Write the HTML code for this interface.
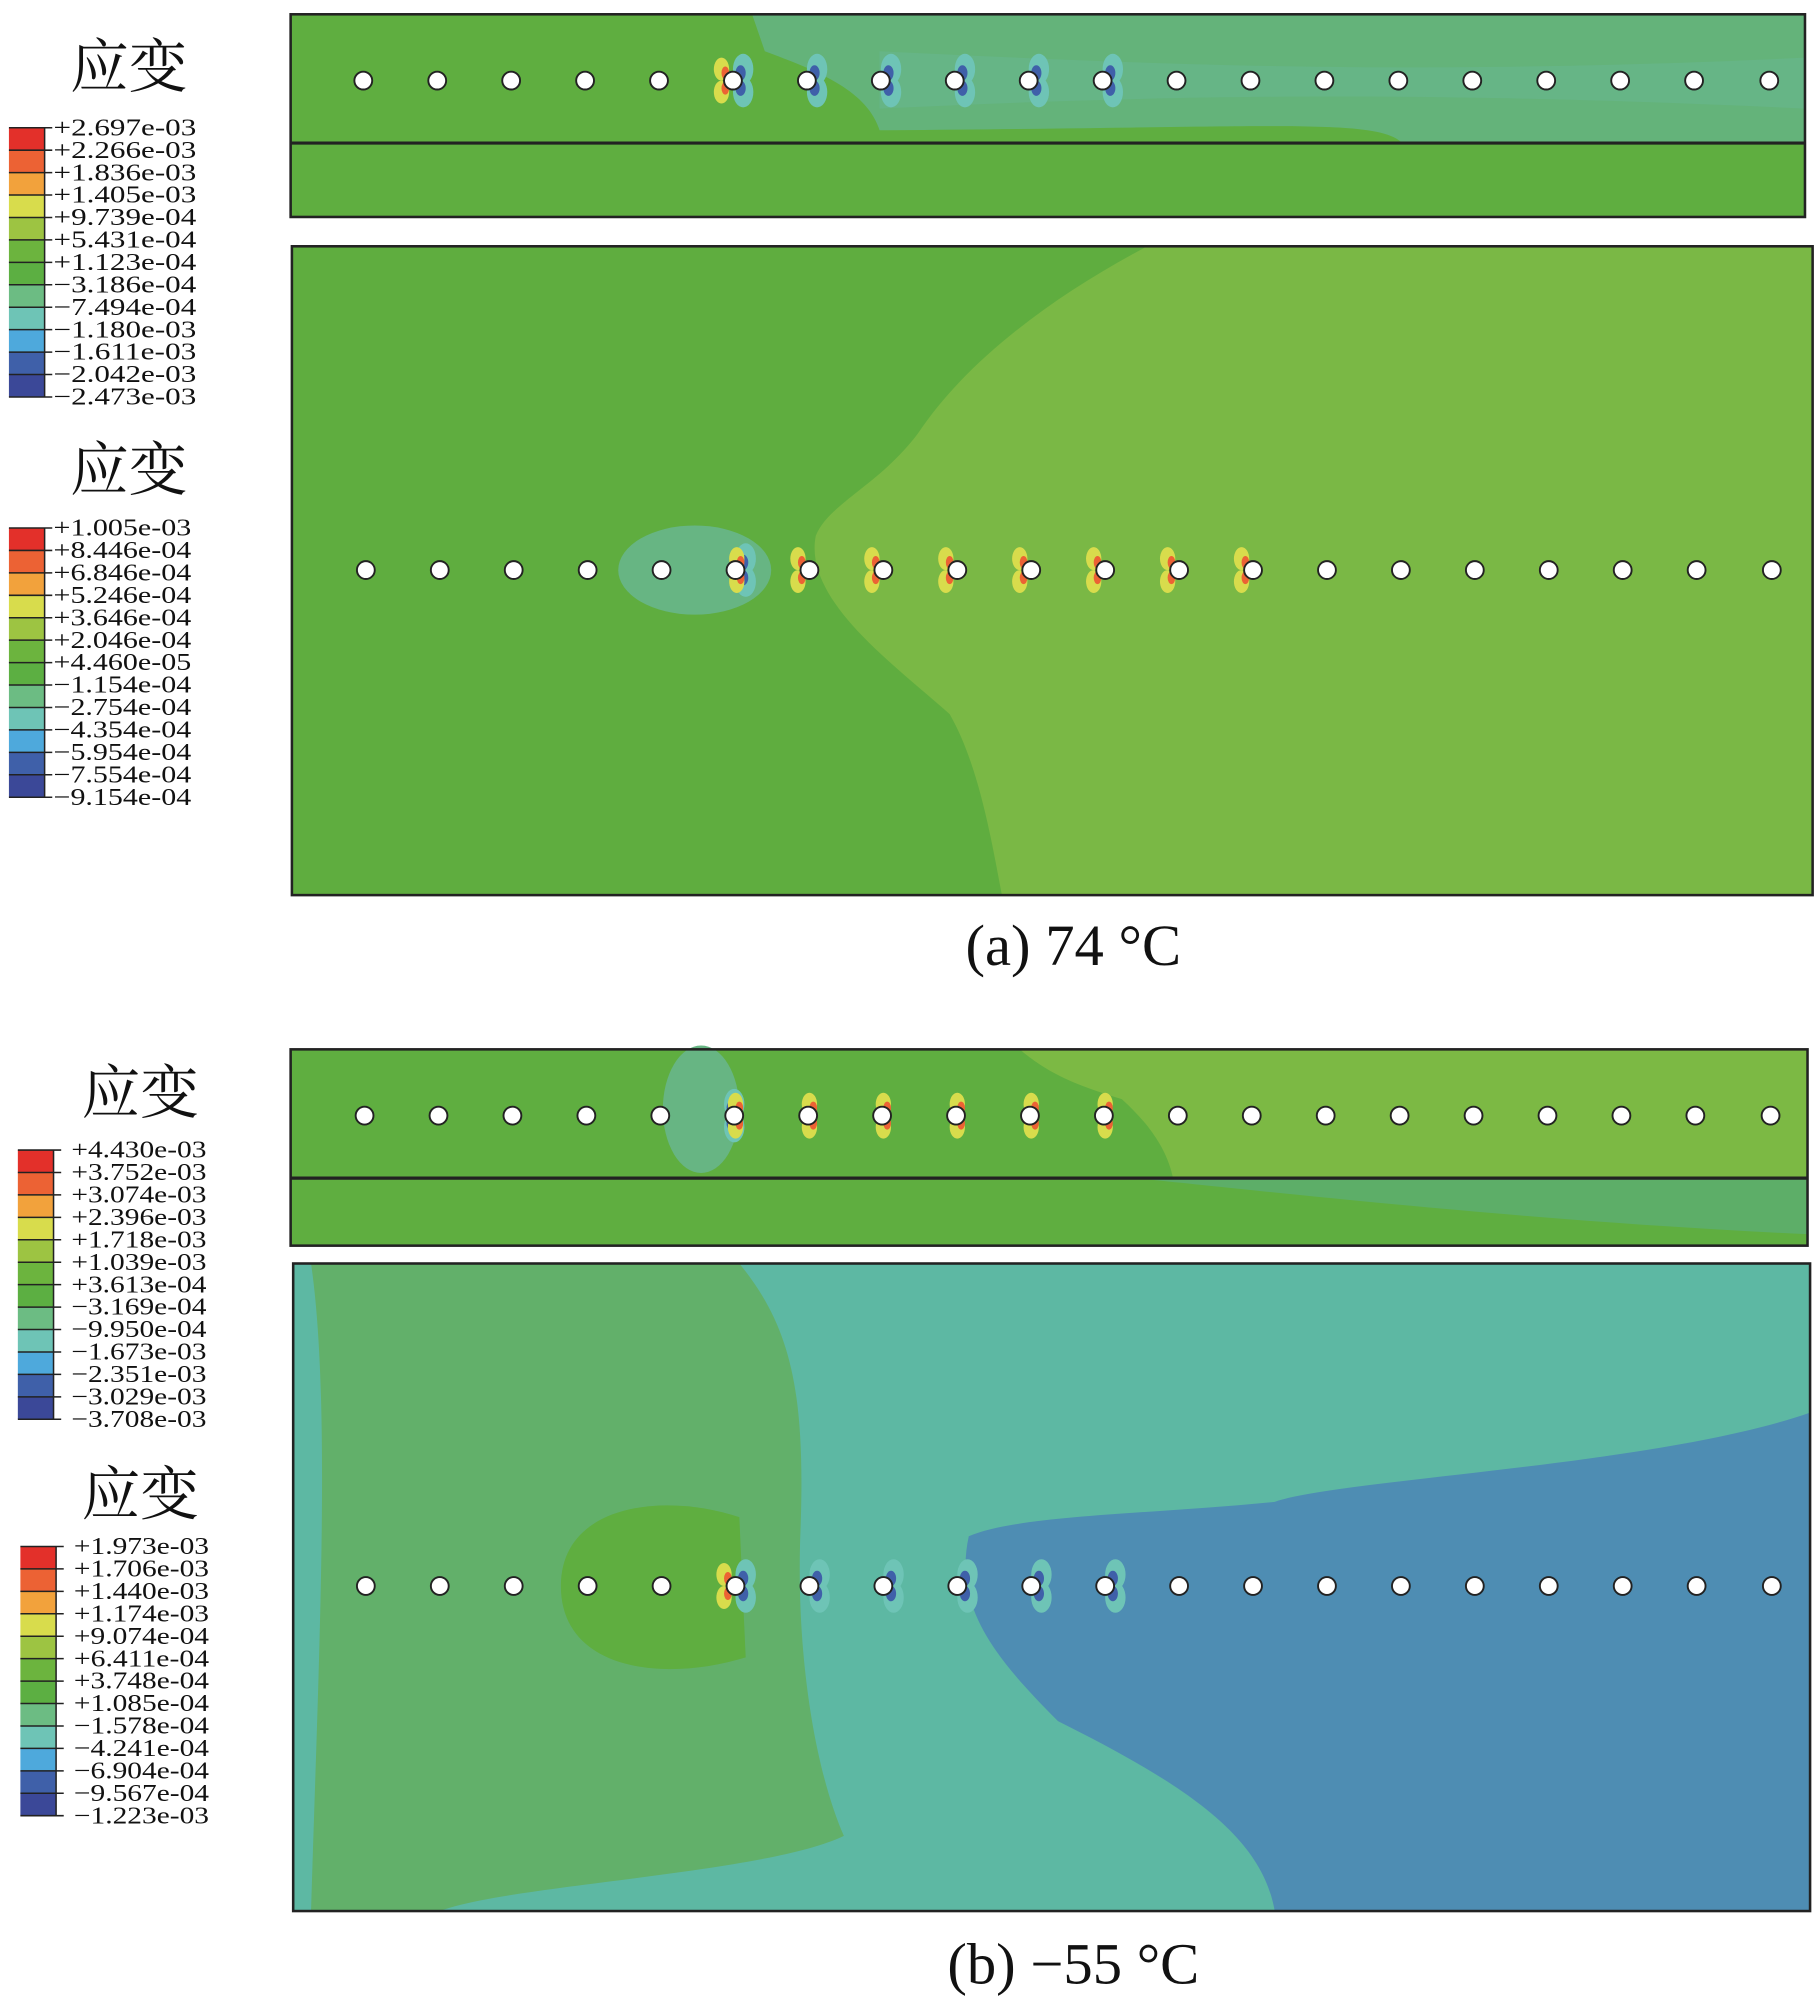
<!DOCTYPE html>
<html><head><meta charset="utf-8"><style>
html,body{margin:0;padding:0;background:#fff}
svg{display:block}
.t{font-family:"Liberation Serif","Noto Serif CJK SC",serif;fill:#111}
.cj{font-family:"Noto Serif CJK SC","WenQuanYi Zen Hei",serif;fill:#111}
</style></head><body>
<svg width="1819" height="1998" viewBox="0 0 1427 1567" xmlns="http://www.w3.org/2000/svg">
<defs>
<g id="bands">
<rect y="0" width="28" height="17.6" fill="#e3302a"/>
<rect y="17.6" width="28" height="17.6" fill="#ec6234"/>
<rect y="35.2" width="28" height="17.6" fill="#f2a23c"/>
<rect y="52.8" width="28" height="17.6" fill="#d8dc4c"/>
<rect y="70.4" width="28" height="17.6" fill="#9dc442"/>
<rect y="88" width="28" height="17.6" fill="#6cb43e"/>
<rect y="105.6" width="28" height="17.6" fill="#5caf42"/>
<rect y="123.2" width="28" height="17.6" fill="#6cbc83"/>
<rect y="140.8" width="28" height="17.6" fill="#6ec4b6"/>
<rect y="158.4" width="28" height="17.6" fill="#4ea9dc"/>
<rect y="176" width="28" height="17.6" fill="#3f60a9"/>
<rect y="193.6" width="28" height="17.6" fill="#3b4898"/>
<g stroke="#222" stroke-width="1.2">
<line x1="0" y1="0" x2="34" y2="0"/><line x1="0" y1="17.6" x2="34" y2="17.6"/><line x1="0" y1="35.2" x2="34" y2="35.2"/><line x1="0" y1="52.8" x2="34" y2="52.8"/><line x1="0" y1="70.4" x2="34" y2="70.4"/><line x1="0" y1="88" x2="34" y2="88"/><line x1="0" y1="105.6" x2="34" y2="105.6"/><line x1="0" y1="123.2" x2="34" y2="123.2"/><line x1="0" y1="140.8" x2="34" y2="140.8"/><line x1="0" y1="158.4" x2="34" y2="158.4"/><line x1="0" y1="176" x2="34" y2="176"/><line x1="0" y1="193.6" x2="34" y2="193.6"/><line x1="0" y1="211.2" x2="34" y2="211.2"/>
<line x1="28" y1="0" x2="28" y2="211.2"/>
</g>
</g>
<g id="holesA" fill="#fff" stroke="#222" stroke-width="1.5">
<circle cx="0" r="7"/><circle cx="58" r="7"/><circle cx="116" r="7"/><circle cx="174" r="7"/><circle cx="232" r="7"/><circle cx="290" r="7"/><circle cx="348" r="7"/><circle cx="406" r="7"/><circle cx="464" r="7"/><circle cx="522" r="7"/><circle cx="580" r="7"/><circle cx="638" r="7"/><circle cx="696" r="7"/><circle cx="754" r="7"/><circle cx="812" r="7"/><circle cx="870" r="7"/><circle cx="928" r="7"/><circle cx="986" r="7"/><circle cx="1044" r="7"/><circle cx="1103" r="7"/>
</g>
<g id="lobesYR">
<ellipse cx="-9" cy="-9" rx="6" ry="9" fill="#d8dc4c"/><ellipse cx="-9" cy="9" rx="6" ry="9" fill="#d8dc4c"/>
<ellipse cx="-6" cy="-6" rx="3" ry="5" fill="#ec6234"/><ellipse cx="-6" cy="6" rx="3" ry="5" fill="#ec6234"/>
</g>
<g id="lobesB">
<ellipse cx="8" cy="-9" rx="8" ry="12" fill="#6ec4b6"/><ellipse cx="8" cy="9" rx="8" ry="12" fill="#6ec4b6"/>
<ellipse cx="6" cy="-6" rx="4" ry="6" fill="#3f60a9"/><ellipse cx="6" cy="6" rx="4" ry="6" fill="#3f60a9"/>
</g>
</defs>

<!-- Legends (a) -->
<text class="cj" x="55" y="68" font-size="46">应变</text>
<use href="#bands" x="7" y="100"/>
<g class="t" font-size="19">
<text x="42" y="106" textLength="112" lengthAdjust="spacingAndGlyphs">+2.697e-03</text>
<text x="42" y="123.6" textLength="112" lengthAdjust="spacingAndGlyphs">+2.266e-03</text>
<text x="42" y="141.2" textLength="112" lengthAdjust="spacingAndGlyphs">+1.836e-03</text>
<text x="42" y="158.8" textLength="112" lengthAdjust="spacingAndGlyphs">+1.405e-03</text>
<text x="42" y="176.4" textLength="112" lengthAdjust="spacingAndGlyphs">+9.739e-04</text>
<text x="42" y="194" textLength="112" lengthAdjust="spacingAndGlyphs">+5.431e-04</text>
<text x="42" y="211.6" textLength="112" lengthAdjust="spacingAndGlyphs">+1.123e-04</text>
<text x="42" y="229.2" textLength="112" lengthAdjust="spacingAndGlyphs">−3.186e-04</text>
<text x="42" y="246.8" textLength="112" lengthAdjust="spacingAndGlyphs">−7.494e-04</text>
<text x="42" y="264.4" textLength="112" lengthAdjust="spacingAndGlyphs">−1.180e-03</text>
<text x="42" y="282" textLength="112" lengthAdjust="spacingAndGlyphs">−1.611e-03</text>
<text x="42" y="299.6" textLength="112" lengthAdjust="spacingAndGlyphs">−2.042e-03</text>
<text x="42" y="317.2" textLength="112" lengthAdjust="spacingAndGlyphs">−2.473e-03</text>
</g>
<text class="cj" x="55" y="384" font-size="46">应变</text>
<use href="#bands" x="7" y="414"/>
<g class="t" font-size="19">
<text x="42" y="420" textLength="108" lengthAdjust="spacingAndGlyphs">+1.005e-03</text>
<text x="42" y="437.6" textLength="108" lengthAdjust="spacingAndGlyphs">+8.446e-04</text>
<text x="42" y="455.2" textLength="108" lengthAdjust="spacingAndGlyphs">+6.846e-04</text>
<text x="42" y="472.8" textLength="108" lengthAdjust="spacingAndGlyphs">+5.246e-04</text>
<text x="42" y="490.4" textLength="108" lengthAdjust="spacingAndGlyphs">+3.646e-04</text>
<text x="42" y="508" textLength="108" lengthAdjust="spacingAndGlyphs">+2.046e-04</text>
<text x="42" y="525.6" textLength="108" lengthAdjust="spacingAndGlyphs">+4.460e-05</text>
<text x="42" y="543.2" textLength="108" lengthAdjust="spacingAndGlyphs">−1.154e-04</text>
<text x="42" y="560.8" textLength="108" lengthAdjust="spacingAndGlyphs">−2.754e-04</text>
<text x="42" y="578.4" textLength="108" lengthAdjust="spacingAndGlyphs">−4.354e-04</text>
<text x="42" y="596" textLength="108" lengthAdjust="spacingAndGlyphs">−5.954e-04</text>
<text x="42" y="613.6" textLength="108" lengthAdjust="spacingAndGlyphs">−7.554e-04</text>
<text x="42" y="631.2" textLength="108" lengthAdjust="spacingAndGlyphs">−9.154e-04</text>
</g>

<!-- Panel (a) top -->
<rect x="228" y="11" width="1188" height="159" fill="#5fae40"/>
<path d="M590,11 L1416,11 L1416,112 L1100,112 C1080,92 1000,100 690,102 C680,70 640,55 600,40 Z" fill="#64b37a"/>
<path d="M690,40 C900,50 1100,60 1416,45 L1416,85 C1100,70 900,75 690,85 Z" fill="#68b68e" opacity="0.6"/>
<g transform="translate(285,63)"><use href="#lobesB" x="290"/><use href="#lobesYR" x="290"/><use href="#lobesB" x="348"/><use href="#lobesB" x="406"/><use href="#lobesB" x="464"/><use href="#lobesB" x="522"/><use href="#lobesB" x="580"/><use href="#holesA"/></g>
<rect x="228" y="11" width="1188" height="159" fill="none" stroke="#222" stroke-width="2"/>
<line x1="228" y1="112" x2="1416" y2="112" stroke="#222" stroke-width="2.5"/>

<!-- Panel (a) bottom -->
<rect x="229" y="193" width="1193" height="509" fill="#7ab845"/>
<path d="M229,193 L900,193 C830,230 760,280 720,340 C690,380 650,395 640,420 C630,470 700,520 745,560 C768,600 778,660 786,702 L229,702 Z" fill="#5fad3f"/>
<ellipse cx="545" cy="447" rx="60" ry="35" fill="#67b583"/>
<g transform="translate(287,447)"><use href="#lobesB" x="290"/><use href="#lobesYR" x="300"/><use href="#lobesYR" x="348"/><use href="#lobesYR" x="406"/><use href="#lobesYR" x="464"/><use href="#lobesYR" x="522"/><use href="#lobesYR" x="580"/><use href="#lobesYR" x="638"/><use href="#lobesYR" x="696"/><use href="#holesA"/></g>
<rect x="229" y="193" width="1193" height="509" fill="none" stroke="#222" stroke-width="2"/>

<text class="t" x="842" y="757" font-size="46" text-anchor="middle">(a) 74 °C</text>

<!-- Legends (b) -->
<text class="cj" x="64" y="873" font-size="46">应变</text>
<use href="#bands" x="14" y="902"/>
<g class="t" font-size="19">
<text x="56" y="908" textLength="106" lengthAdjust="spacingAndGlyphs">+4.430e-03</text>
<text x="56" y="925.6" textLength="106" lengthAdjust="spacingAndGlyphs">+3.752e-03</text>
<text x="56" y="943.2" textLength="106" lengthAdjust="spacingAndGlyphs">+3.074e-03</text>
<text x="56" y="960.8" textLength="106" lengthAdjust="spacingAndGlyphs">+2.396e-03</text>
<text x="56" y="978.4" textLength="106" lengthAdjust="spacingAndGlyphs">+1.718e-03</text>
<text x="56" y="996" textLength="106" lengthAdjust="spacingAndGlyphs">+1.039e-03</text>
<text x="56" y="1013.6" textLength="106" lengthAdjust="spacingAndGlyphs">+3.613e-04</text>
<text x="56" y="1031.2" textLength="106" lengthAdjust="spacingAndGlyphs">−3.169e-04</text>
<text x="56" y="1048.8" textLength="106" lengthAdjust="spacingAndGlyphs">−9.950e-04</text>
<text x="56" y="1066.4" textLength="106" lengthAdjust="spacingAndGlyphs">−1.673e-03</text>
<text x="56" y="1084" textLength="106" lengthAdjust="spacingAndGlyphs">−2.351e-03</text>
<text x="56" y="1101.6" textLength="106" lengthAdjust="spacingAndGlyphs">−3.029e-03</text>
<text x="56" y="1119.2" textLength="106" lengthAdjust="spacingAndGlyphs">−3.708e-03</text>
</g>
<text class="cj" x="64" y="1188" font-size="46">应变</text>
<use href="#bands" x="16" y="1213"/>
<g class="t" font-size="19">
<text x="58" y="1219" textLength="106" lengthAdjust="spacingAndGlyphs">+1.973e-03</text>
<text x="58" y="1236.6" textLength="106" lengthAdjust="spacingAndGlyphs">+1.706e-03</text>
<text x="58" y="1254.2" textLength="106" lengthAdjust="spacingAndGlyphs">+1.440e-03</text>
<text x="58" y="1271.8" textLength="106" lengthAdjust="spacingAndGlyphs">+1.174e-03</text>
<text x="58" y="1289.4" textLength="106" lengthAdjust="spacingAndGlyphs">+9.074e-04</text>
<text x="58" y="1307" textLength="106" lengthAdjust="spacingAndGlyphs">+6.411e-04</text>
<text x="58" y="1324.6" textLength="106" lengthAdjust="spacingAndGlyphs">+3.748e-04</text>
<text x="58" y="1342.2" textLength="106" lengthAdjust="spacingAndGlyphs">+1.085e-04</text>
<text x="58" y="1359.8" textLength="106" lengthAdjust="spacingAndGlyphs">−1.578e-04</text>
<text x="58" y="1377.4" textLength="106" lengthAdjust="spacingAndGlyphs">−4.241e-04</text>
<text x="58" y="1395" textLength="106" lengthAdjust="spacingAndGlyphs">−6.904e-04</text>
<text x="58" y="1412.6" textLength="106" lengthAdjust="spacingAndGlyphs">−9.567e-04</text>
<text x="58" y="1430.2" textLength="106" lengthAdjust="spacingAndGlyphs">−1.223e-03</text>
</g>

<!-- Panel (b) top -->
<rect x="228" y="823" width="1190" height="154" fill="#5fae40"/>
<path d="M800,823 L1418,823 L1418,923 L920,923 C915,900 900,880 880,862 C840,850 820,840 800,823 Z" fill="#7cb944"/>
<path d="M900,925 L1418,925 L1418,968 C1200,958 1000,935 900,925 Z" fill="#5dae68"/>
<ellipse cx="550" cy="870" rx="30" ry="50" fill="#67b583"/>
<g transform="translate(286,875)"><use href="#lobesB" x="282"/><use href="#lobesYR" x="300"/><use href="#lobesYR" x="358"/><use href="#lobesYR" x="416"/><use href="#lobesYR" x="474"/><use href="#lobesYR" x="532"/><use href="#lobesYR" x="590"/><use href="#holesA"/></g>
<rect x="228" y="823" width="1190" height="154" fill="none" stroke="#222" stroke-width="2"/>
<line x1="228" y1="924" x2="1418" y2="924" stroke="#222" stroke-width="2.5"/>

<!-- Panel (b) bottom -->
<rect x="230" y="991" width="1190" height="508" fill="#5db8a3"/>
<path d="M244,991 L580,991 C620,1040 632,1090 628,1200 C624,1300 640,1390 662,1440 C600,1470 400,1478 345,1499 L244,1499 C250,1300 260,1100 244,991 Z" fill="#62b06a"/>
<path d="M440,1244 C440,1180 520,1170 580,1190 L585,1300 C520,1320 440,1310 440,1244 Z" fill="#5fae40"/>
<path d="M1420,1108 C1300,1150 1050,1160 1000,1178 C900,1188 800,1188 760,1205 C748,1260 780,1300 830,1350 C930,1400 990,1440 1000,1499 L1420,1499 Z" fill="#4e8db3"/>
<g transform="translate(287,1244)"><use href="#lobesYR" x="290"/><use href="#lobesB" x="290"/><use href="#lobesB" x="348"/><use href="#lobesB" x="406"/><use href="#lobesB" x="464"/><use href="#lobesB" x="522"/><use href="#lobesB" x="580"/><use href="#holesA"/></g>
<rect x="230" y="991" width="1190" height="508" fill="none" stroke="#222" stroke-width="2"/>

<text class="t" x="842" y="1556" font-size="46" text-anchor="middle">(b) −55 °C</text>
</svg>
</body></html>
